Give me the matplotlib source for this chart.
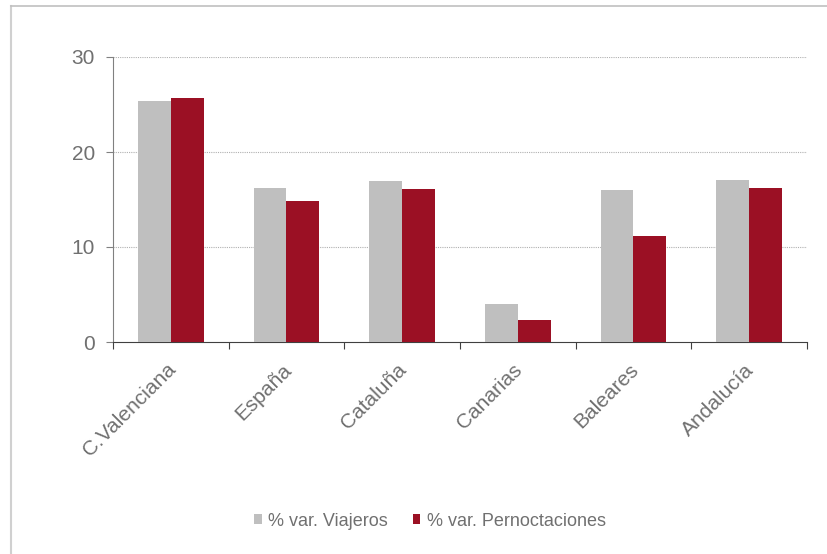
import numpy as np
import matplotlib.pyplot as plt
from matplotlib.lines import Line2D
import matplotlib.transforms as mtrans

plt.rcParams['font.family'] = ['Liberation Sans', 'DejaVu Sans']

regiones = ["C.Valenciana", "España", "Cataluña", "Canarias", "Baleares", "Andalucía"]
viajeros = [25.4, 16.2, 16.9, 4.0, 16.0, 17.1]
pernoctaciones = [25.7, 14.8, 16.1, 2.3, 11.2, 16.2]

grisBar = "#bfbfbf"
rojoBar = "#9b1024"
textoGris = "#707070"

fig = plt.figure(figsize=(8.28, 5.54), dpi=100)
ax = fig.add_axes([113/828, 1-342/554, 694/828, 285/554])

x = np.arange(len(regiones))
w = 0.285
ax.bar(x - w/2, viajeros, w, color=grisBar, label="% var. Viajeros", zorder=3)
ax.bar(x + w/2, pernoctaciones, w, color=rojoBar, label="% var. Pernoctaciones", zorder=3)

ax.set_xlim(-0.5, len(regiones) - 0.5)
ax.set_ylim(0, 30)
ax.set_yticks([0, 10, 20, 30])
for yv in [10, 20, 30]:
    ax.axhline(yv, color="#b0b0b0", lw=0.8, ls=(0, (1, 1)), zorder=1)

# ticks on category boundaries
ax.set_xticks(np.arange(-0.5, len(regiones), 1.0))
ax.set_xticklabels([])
ax.set_xticks(x, minor=True)
ax.set_xticklabels(regiones, minor=True, rotation=45, ha="right", rotation_mode="anchor",
                   fontsize=15, color=textoGris)
ax.tick_params(axis="x", which="minor", length=0, pad=13)
ax.tick_params(axis="x", which="major", direction="out", length=5, color="#404040")
ax.tick_params(axis="y", direction="out", length=5, color="#808080", labelsize=15,
               labelcolor=textoGris, pad=8)
offset = mtrans.ScaledTranslation(-5/100, 0, fig.dpi_scale_trans)
for lab in ax.get_xticklabels(minor=True):
    lab.set_transform(lab.get_transform() + offset)

for s in ["top", "right"]:
    ax.spines[s].set_visible(False)
ax.spines["left"].set_color("#808080")
ax.spines["bottom"].set_color("#404040")

fig.legend(loc="center", bbox_to_anchor=(430/828, 1-521/554), ncol=2, frameon=False,
           fontsize=13, labelcolor=textoGris, handlelength=0.4, handleheight=0.4,
           handletextpad=0.35, columnspacing=1.4)

# outer frame (only left and top edges visible)
fig.add_artist(Line2D([10.5/828, 10.5/828], [0, 1-5.5/554], color="#d0d0d0", lw=1.5,
                      transform=fig.transFigure))
fig.add_artist(Line2D([10.5/828, 1], [1-5.5/554, 1-5.5/554], color="#c0c0c0", lw=1.2,
                      transform=fig.transFigure))

fig.savefig("out.png", dpi=100)
